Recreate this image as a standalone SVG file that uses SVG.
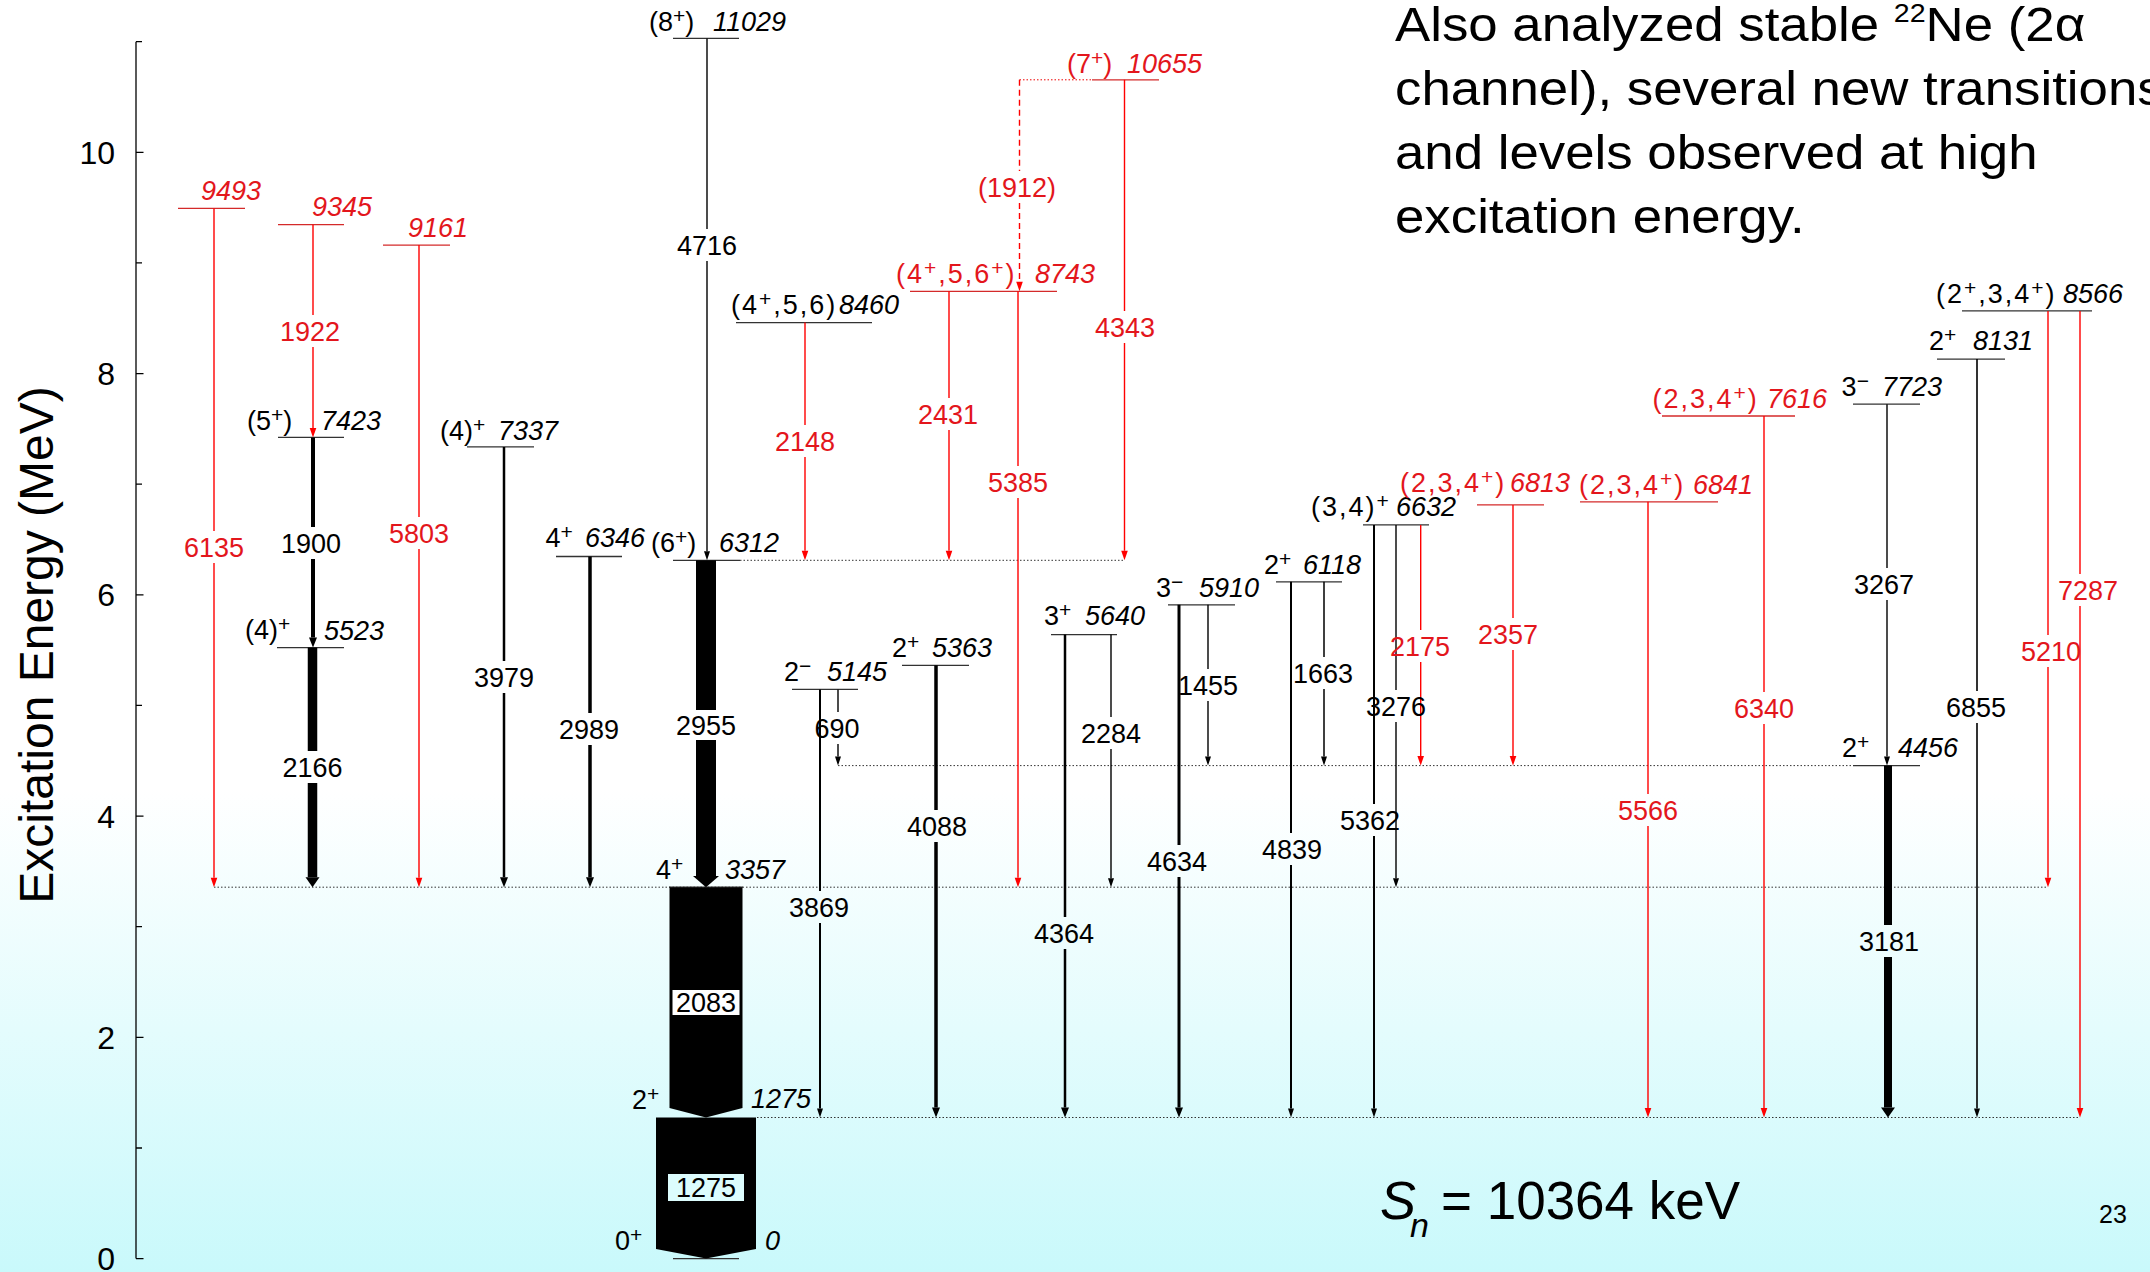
<svg xmlns="http://www.w3.org/2000/svg" width="2150" height="1272" viewBox="0 0 2150 1272">
<defs>
<linearGradient id="bg" x1="0" y1="0" x2="0" y2="1">
<stop offset="0" stop-color="#ffffff"/>
<stop offset="0.62" stop-color="#ffffff"/>
<stop offset="1" stop-color="#c9f9fb"/>
</linearGradient>
<marker id="ab" markerUnits="userSpaceOnUse" markerWidth="12" markerHeight="12" viewBox="0 -6 12 12" refX="0" refY="0" orient="auto" overflow="visible"><path d="M0,-3L9,0L0,3Z" fill="#000"/></marker>
<marker id="mr" markerUnits="userSpaceOnUse" markerWidth="12" markerHeight="12" viewBox="0 -6 12 12" refX="0" refY="0" orient="auto" overflow="visible"><path d="M0,-3.3L9.5,0L0,3.3Z" fill="#f00"/></marker>
<marker id="ab2" markerUnits="userSpaceOnUse" markerWidth="12" markerHeight="12" viewBox="0 -6 12 12" refX="0" refY="0" orient="auto" overflow="visible"><path d="M0,-4L10,0L0,4Z" fill="#000"/></marker>
<marker id="ab3" markerUnits="userSpaceOnUse" markerWidth="12" markerHeight="16" viewBox="0 -8 12 16" refX="0" refY="0" orient="auto" overflow="visible"><path d="M0,-7L10,0L0,7Z" fill="#000"/></marker>
</defs>
<style>
text{font-family:"Liberation Sans",Arial,Helvetica,sans-serif;font-size:27px;fill:#000}
.lk{stroke:#333;stroke-width:1.3}
.lr{stroke:#d42a2a;stroke-width:1.3}
.e{font-style:italic;text-anchor:end}
.er{font-style:italic;text-anchor:end;fill:#e3161c}
.sr{fill:#e3161c}
.su{font-size:21px}
.cm{letter-spacing:2px}
.dot{stroke:#333;stroke-width:1;stroke-dasharray:1.5 2;fill:none}
.dotr{stroke:#e00;stroke-width:1;stroke-dasharray:1.5 2;fill:none}
.tb{stroke:#000;fill:none;marker-end:url(#ab);stroke-width:1.4}
.tb2{stroke:#000;fill:none;marker-end:url(#ab2)}
.tb3{stroke:#000;fill:none;marker-end:url(#ab3)}
.tr{stroke:#f00;fill:none;marker-end:url(#mr);stroke-width:1.4}
.trd{stroke:#f00;fill:none;marker-end:url(#mr);stroke-width:1.4;stroke-dasharray:6 4}
.t{font-size:27px;text-anchor:middle}
.tR{font-size:27px;text-anchor:middle;fill:#e3161c}
.ax{stroke:#000;stroke-width:1.3}
.tk{font-size:32px;text-anchor:end}
</style>
<rect x="0" y="0" width="2150" height="1272" fill="url(#bg)"/>

<g id="axis">
<line class="ax" x1="136" y1="41.7" x2="136" y2="1258.6"/>
<path class="ax" d="M136 1258.6H143.5M136 1148H142M136 1037.3H143.5M136 926.7H142M136 816.1H143.5M136 705.4H142M136 594.8H143.5M136 484.2H142M136 373.6H143.5M136 262.9H142M136 152.3H143.5M136 41.7H142"/>
<text class="tk" x="115" y="1270">0</text>
<text class="tk" x="115" y="1048.8">2</text>
<text class="tk" x="115" y="827.6">4</text>
<text class="tk" x="115" y="606.3">6</text>
<text class="tk" x="115" y="385.1">8</text>
<text class="tk" x="115" y="163.8">10</text>
<text transform="translate(53 645) rotate(-90)" text-anchor="middle" style="font-size:48px">Excitation Energy (MeV)</text>
</g>

<g id="refs">
<line class="dot" x1="214" y1="887.2" x2="2048" y2="887.2"/>
<line class="dot" x1="757" y1="1117.5" x2="2080" y2="1117.5"/>
<line class="dot" x1="838" y1="765.6" x2="1853" y2="765.6"/>
<line class="dot" x1="740" y1="560.3" x2="1124.5" y2="560.3"/>
<line class="dotr" x1="1019.5" y1="79.8" x2="1092" y2="79.8"/>
</g>

<g id="levels">
<g id="n9493"><line class="lr" x1="178" y1="208.4" x2="245" y2="208.4"/><text class="er" x="261" y="200">9493</text></g>
<g id="n9345"><line class="lr" x1="278" y1="224.7" x2="344" y2="224.7"/><text class="er" x="372" y="216">9345</text></g>
<g id="n9161"><line class="lr" x1="383" y1="245.1" x2="450" y2="245.1"/><text class="er" x="468" y="237">9161</text></g>
<g id="n7423"><line class="lk" x1="278" y1="437.4" x2="344" y2="437.4"/><text x="247" y="430">(5<tspan class="su" dy="-8">+</tspan><tspan dy="8">)</tspan></text><text class="e" x="381" y="430">7423</text></g>
<g id="n5523"><line class="lk" x1="277" y1="647.6" x2="344" y2="647.6"/><text x="245" y="639">(4)<tspan class="su" dy="-8">+</tspan></text><text class="e" x="384" y="640">5523</text></g>
<g id="n7337"><line class="lk" x1="467" y1="446.9" x2="534" y2="446.9"/><text x="440" y="440">(4)<tspan class="su" dy="-8">+</tspan></text><text class="e" x="558" y="440">7337</text></g>
<g id="n6346"><line class="lk" x1="556" y1="556.5" x2="622" y2="556.5"/><text x="545.5" y="547">4<tspan class="su" dy="-8">+</tspan></text><text class="e" x="645" y="547">6346</text></g>
<g id="n6312"><line class="lk" x1="673" y1="560.3" x2="740" y2="560.3"/><text x="651" y="552">(6<tspan class="su" dy="-8">+</tspan><tspan dy="8">)</tspan></text><text class="e" x="779" y="552">6312</text></g>
<g id="n11029"><line class="lk" x1="673" y1="38.4" x2="739" y2="38.4"/><text x="649" y="30.6">(8<tspan class="su" dy="-8">+</tspan><tspan dy="8">)</tspan></text><text class="e" x="786" y="30.6">11029</text></g>
<g id="n8460"><line class="lk" x1="736" y1="322.6" x2="872" y2="322.6"/><text class="cm" x="731" y="314">(4<tspan class="su" dy="-8">+</tspan><tspan dy="8">,5,6)</tspan></text><text class="e" x="899" y="314">8460</text></g>
<g id="n8743"><line class="lr" x1="910" y1="291.3" x2="1057" y2="291.3"/><text class="sr cm" x="896" y="282.5">(4<tspan class="su" dy="-8">+</tspan><tspan dy="8">,5,6</tspan><tspan class="su" dy="-8">+</tspan><tspan dy="8">)</tspan></text><text class="er" x="1095" y="282.5">8743</text></g>
<g id="n10655"><line class="lr" x1="1092" y1="79.8" x2="1159" y2="79.8"/><text class="sr" x="1067" y="72.7">(7<tspan class="su" dy="-8">+</tspan><tspan dy="8">)</tspan></text><text class="er" x="1202" y="72.7">10655</text></g>
<g id="n5145"><line class="lk" x1="792" y1="689.4" x2="858" y2="689.4"/><text x="784" y="681">2<tspan class="su" dy="-8">−</tspan></text><text class="e" x="887" y="681">5145</text></g>
<g id="n5363"><line class="lk" x1="902" y1="665.3" x2="969" y2="665.3"/><text x="892" y="657">2<tspan class="su" dy="-8">+</tspan></text><text class="e" x="992" y="657">5363</text></g>
<g id="n5640"><line class="lk" x1="1051" y1="634.6" x2="1117" y2="634.6"/><text x="1044" y="625">3<tspan class="su" dy="-8">+</tspan></text><text class="e" x="1145" y="625">5640</text></g>
<g id="n5910"><line class="lk" x1="1168" y1="604.8" x2="1235" y2="604.8"/><text x="1156" y="597">3<tspan class="su" dy="-8">−</tspan></text><text class="e" x="1259" y="597">5910</text></g>
<g id="n6118"><line class="lk" x1="1276" y1="581.8" x2="1342" y2="581.8"/><text x="1264" y="573.5">2<tspan class="su" dy="-8">+</tspan></text><text class="e" x="1361" y="573.5">6118</text></g>
<g id="n6632"><line class="lk" x1="1363" y1="524.9" x2="1429" y2="524.9"/><text class="cm" x="1311" y="516">(3,4)<tspan class="su" dy="-8">+</tspan></text><text class="e" x="1456" y="516">6632</text></g>
<g id="n6813"><line class="lr" x1="1477" y1="504.9" x2="1544" y2="504.9"/><text class="sr cm" x="1400" y="491.7">(2,3,4<tspan class="su" dy="-8">+</tspan><tspan dy="8">)</tspan></text><text class="er" x="1570" y="491.7">6813</text></g>
<g id="n6841"><line class="lr" x1="1580" y1="501.8" x2="1718" y2="501.8"/><text class="sr cm" x="1579" y="494">(2,3,4<tspan class="su" dy="-8">+</tspan><tspan dy="8">)</tspan></text><text class="er" x="1753" y="494">6841</text></g>
<g id="n7616"><line class="lr" x1="1662" y1="416" x2="1795" y2="416"/><text class="sr cm" x="1652.5" y="408">(2,3,4<tspan class="su" dy="-8">+</tspan><tspan dy="8">)</tspan></text><text class="er" x="1827" y="408">7616</text></g>
<g id="n7723"><line class="lk" x1="1853" y1="404.2" x2="1920" y2="404.2"/><text x="1841.6" y="396">3<tspan class="su" dy="-8">−</tspan></text><text class="e" x="1942" y="396">7723</text></g>
<g id="n8131"><line class="lk" x1="1937" y1="359.1" x2="2005" y2="359.1"/><text x="1929" y="350">2<tspan class="su" dy="-8">+</tspan></text><text class="e" x="2033" y="350">8131</text></g>
<g id="n8566"><line class="lk" x1="1962" y1="310.9" x2="2092" y2="310.9"/><text class="cm" x="1936" y="303">(2<tspan class="su" dy="-8">+</tspan><tspan dy="8">,3,4</tspan><tspan class="su" dy="-8">+</tspan><tspan dy="8">)</tspan></text><text class="e" x="2123" y="303">8566</text></g>
<g id="n4456"><line class="lk" x1="1853" y1="765.6" x2="1920" y2="765.6"/><text x="1842" y="757">2<tspan class="su" dy="-8">+</tspan></text><text class="e" x="1958" y="757">4456</text></g>
<g id="n3357"><line class="lk" x1="669" y1="887.2" x2="743" y2="887.2"/><text x="656" y="879">4<tspan class="su" dy="-8">+</tspan></text><text class="e" x="785" y="879">3357</text></g>
<g id="n1275"><text x="632" y="1109">2<tspan class="su" dy="-8">+</tspan></text><text x="751" y="1108" style="font-style:italic">1275</text></g>
<g id="n0"><line class="lk" x1="673" y1="1258.6" x2="739" y2="1258.6"/><text x="615" y="1250">0<tspan class="su" dy="-8">+</tspan></text><text x="765" y="1250" style="font-style:italic">0</text></g>
</g>

<g id="connectors">
<path class="tr" d="M214 208.4V531M214 563V877.7"/>
<path class="tr" d="M313 224.7V315M313 347V427.9"/>
<path class="tr" d="M419 245.1V517M419 549V877.7"/>
<path class="tr" d="M805 322.6V425M805 457V550.8"/>
<path class="tr" d="M949 291.3V398M949 430V550.8"/>
<path class="tr" d="M1018 291.3V466M1018 498V877.7"/>
<path class="trd" d="M1019.5 79.8V171M1019.5 203V281.8"/>
<path class="tr" d="M1124.5 79.8V311M1124.5 343V550.8"/>
<path class="tr" d="M1420.7 524.9V630M1420.7 662V756.1"/>
<path class="tr" d="M1513 504.9V618M1513 650V756.1"/>
<path class="tr" d="M1648 501.8V794M1648 826V1108"/>
<path class="tr" d="M1764 416V692M1764 724V1108"/>
<path class="tr" d="M2048 310.9V635M2048 667V877.7"/>
<path class="tr" d="M2080 310.9V574M2080 606V1108"/>

<path class="tb" d="M707 38.4V229M707 261V551.3"/>
<path class="tb" d="M838 689.4V712M838 744V756.6"/>
<path class="tb" d="M1111 634.6V717M1111 749V878.2"/>
<path class="tb" d="M1208 604.8V669M1208 701V756.6"/>
<path class="tb" style="stroke-width:1.5" d="M1324 581.8V657M1324 689V756.6"/>
<path class="tb" d="M1396 524.9V690M1396 722V878.2"/>
<path class="tb" d="M1887 404.2V568M1887 600V756.6"/>
<path class="tb" style="stroke-width:1.6" d="M1977 359.1V691M1977 723V1108.5"/>
<path class="tb" style="stroke-width:2" d="M820 689.4V891M820 923V1108.5"/>
<path class="tb" style="stroke-width:2" d="M1291 581.8V833M1291 865V1108.5"/>
<path class="tb" style="stroke-width:2" d="M1374 524.9V804M1374 836V1108.5"/>

<path class="tb2" style="stroke-width:4" d="M313 437.4V527M313 559V637.6"/>
<path class="tb2" style="stroke-width:2.5" d="M504 446.9V661M504 693V877.2"/>
<path class="tb2" style="stroke-width:3.5" d="M590 556.5V713M590 745V877.2"/>
<path class="tb2" style="stroke-width:3.5" d="M936 665.3V810M936 842V1107.5"/>
<path class="tb2" style="stroke-width:2.5" d="M1065 634.6V917M1065 949V1107.5"/>
<path class="tb2" style="stroke-width:3" d="M1179 604.8V845M1179 877V1107.5"/>

<path class="tb3" style="stroke-width:9.5" d="M312.5 647.6V751M312.5 783V877.2"/>
<path class="tb3" style="stroke-width:8" d="M1888 765.6V925M1888 957V1107.5"/>

<g id="t2955">
<rect x="696" y="560.3" width="20" height="149.7" fill="#000"/>
<rect x="696" y="740" width="20" height="136.2" fill="#000"/>
<polygon points="693,876 719,876 706,887.2" fill="#000"/>
</g>
<g id="t2083">
<polygon points="669.5,887.2 742.5,887.2 742.5,1108 706,1117.5 669.5,1108" fill="#000"/>
<rect x="672.5" y="990" width="67" height="25" fill="#fff"/>
<text x="706" y="1012" text-anchor="middle">2083</text>
</g>
<g id="t1275">
<polygon points="656,1117.5 756,1117.5 756,1249 706,1258.6 656,1249" fill="#000"/>
<rect x="668" y="1174" width="76" height="27" fill="#dcfcfd"/>
<text x="706" y="1197" text-anchor="middle">1275</text>
</g>

<text class="tR" x="214" y="556.5">6135</text>
<text class="tR" x="310" y="340.5">1922</text>
<text class="t" x="311" y="552.5">1900</text>
<text class="t" x="312.5" y="776.5">2166</text>
<text class="tR" x="419" y="542.5">5803</text>
<text class="t" x="504" y="686.5">3979</text>
<text class="t" x="589" y="738.5">2989</text>
<text class="t" x="707" y="254.5">4716</text>
<text class="t" x="706" y="734.5">2955</text>
<text class="tR" x="805" y="450.5">2148</text>
<text class="tR" x="948" y="423.5">2431</text>
<text class="tR" x="1018" y="491.5">5385</text>
<text class="tR" x="1017" y="196.5">(1912)</text>
<text class="tR" x="1125" y="336.5">4343</text>
<text class="t" x="837" y="737.5">690</text>
<text class="t" x="819" y="916.5">3869</text>
<text class="t" x="937" y="835.5">4088</text>
<text class="t" x="1064" y="942.5">4364</text>
<text class="t" x="1111" y="742.5">2284</text>
<text class="t" x="1177" y="870.5">4634</text>
<text class="t" x="1208" y="694.5">1455</text>
<text class="t" x="1292" y="858.5">4839</text>
<text class="t" x="1323" y="682.5">1663</text>
<text class="t" x="1370" y="829.5">5362</text>
<text class="t" x="1396" y="715.5">3276</text>
<text class="tR" x="1420" y="655.5">2175</text>
<text class="tR" x="1508" y="643.5">2357</text>
<text class="tR" x="1648" y="819.5">5566</text>
<text class="tR" x="1764" y="717.5">6340</text>
<text class="t" x="1884" y="593.5">3267</text>
<text class="t" x="1889" y="950.5">3181</text>
<text class="t" x="1976" y="716.5">6855</text>
<text class="tR" x="2051" y="660.5">5210</text>
<text class="tR" x="2088" y="599.5">7287</text>
</g>

<g id="note" transform="translate(1395 0) scale(1.1 1)">
<text x="0" y="41" style="font-size:48px">Also analyzed stable <tspan style="font-size:26px" dy="-19">22</tspan><tspan dy="19">Ne (2α</tspan></text>
<text x="0" y="105" style="font-size:48px">channel), several new transitions</text>
<text x="0" y="169" style="font-size:48px">and levels observed at high</text>
<text x="0" y="233" style="font-size:48px">excitation energy.</text>
</g>

<g id="sn">
<text x="1380" y="1219" style="font-size:54px;font-style:italic">S</text>
<text x="1410" y="1237" style="font-size:34px;font-style:italic">n</text>
<text x="1441" y="1219" style="font-size:53px">= 10364 keV</text>
</g>
<text x="2099" y="1223" style="font-size:25px">23</text>
</svg>
